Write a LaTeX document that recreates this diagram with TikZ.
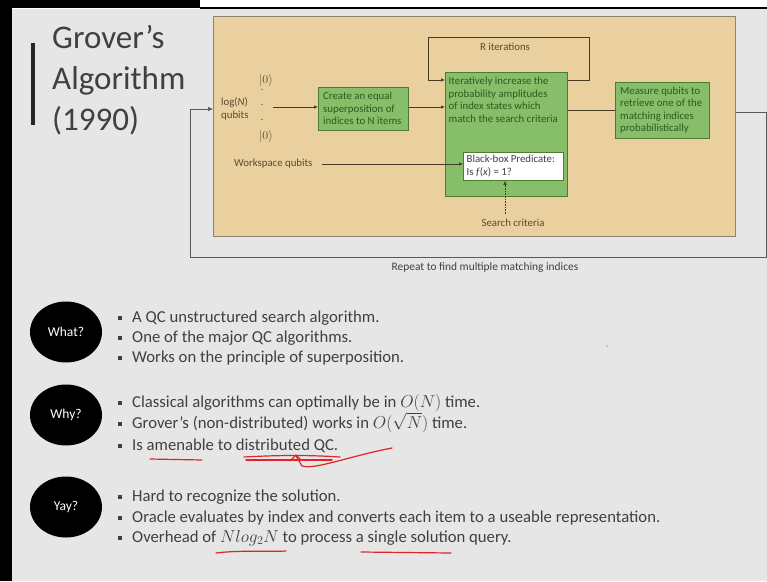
\documentclass[tikz,border=0pt]{standalone}
\usepackage{fontspec}
\setmainfont{Carlito}
\usetikzlibrary{arrows.meta,shapes.geometric,calc}
\definecolor{bgray}{HTML}{E6E6E6}
\definecolor{tan}{HTML}{E9D09E}
\definecolor{tanedge}{HTML}{8C8470}
\definecolor{gfill}{HTML}{86BE69}
\definecolor{gedge}{HTML}{4E7A34}
\definecolor{gtext}{HTML}{2E5A1E}
\definecolor{dtext}{HTML}{5A4A2E}
\definecolor{body}{HTML}{404040}
\definecolor{pen}{HTML}{E0242A}
\tikzset{
  gbox/.style={draw=gedge, fill=gfill, line width=0.8pt, inner sep=0pt},
  lbl/.style={text=dtext, font=\fontsize{10.8}{12.5}\selectfont, inner sep=0pt, align=left},
  gtxt/.style={lbl, text=gtext},
  conn/.style={draw=dtext!80!black, line width=0.6pt},
  arr/.style={conn, -{Latex[length=4pt,width=3.5pt]}},
  loopline/.style={draw=gray!70!black, line width=0.6pt},
  oval/.style={ellipse, fill=black, minimum width=72pt, minimum height=61pt, text=white, font=\fontsize{13.5}{15}\selectfont},
  item/.style={anchor=west, text=body, font=\fontsize{16.7}{19}\selectfont, inner sep=0pt, text height=11pt, text depth=3pt},
  bul/.style={fill=body, minimum size=3.2pt, inner sep=0pt},
  redpen/.style={draw=pen, line width=1.2pt, line cap=round, line join=round}
}
\begin{document}
\begin{tikzpicture}[x=1pt,y=-1pt]
\useasboundingbox (0,0) rectangle (767,581);
% frame
\fill[white] (0,0) rectangle (767,581);
\fill[bgray] (12,9) rectangle (767,581);
\fill[black] (0,0) rectangle (12,581);
\fill[black] (0,0) rectangle (200,8);
\fill[black] (200,6.5) rectangle (767,9);
% title
\node[anchor=west, text=body, font=\fontsize{33}{41}\selectfont, align=left, inner sep=0pt] (title) at (52,80) {Grover’s\\Algorithm\\(1990)};
\fill[black!85] (31,43) rectangle (35,125);
% tan panel
\node[draw=tanedge, fill=tan, line width=0.7pt, minimum width=522pt, minimum height=220pt, anchor=north west, inner sep=0pt] (panel) at (213,16) {};
% outer repeat loop
\coordinate (rc1) at (766,112);
\coordinate (rc2) at (766,257);
\coordinate (rc3) at (190,257);
\coordinate (rc4) at (190,109);
\draw[loopline] (panel.east |- rc1) -- (rc1) -- (rc2) -- (rc3) -- (rc4);
\draw[loopline, -{Latex[length=5pt,width=4.5pt]}] (rc4) -- (rc4 -| panel.west);
\node[text=body, font=\fontsize{11.4}{13}\selectfont, inner sep=0pt] (repeat) at (485,268) {Repeat to find multiple matching indices};
% inputs
\node[lbl, font=\fontsize{12}{13}\selectfont] (ket1) at (266,80) {\(|0\rangle\)};
\node[lbl, font=\fontsize{12}{13}\selectfont] (ket2) at (266,136) {\(|0\rangle\)};
\node[lbl] (d1) at (262,90) {.};
\node[lbl] (d2) at (262,105) {.};
\node[lbl] (d3) at (262,120) {.};
\node[lbl, anchor=west] (logn) at (221,109) {log(\textit{N})\\qubits};
\node[lbl, anchor=west] (work) at (234,164) {Workspace qubits};
% boxes
\node[gbox, minimum width=90pt, minimum height=43pt, anchor=north west] (create) at (318,87) {};
\node[gtxt, anchor=west] (createtext) at (323,108.5) {Create an equal\\superposition of\\indices to N items};
\node[gbox, minimum width=122pt, minimum height=124pt, anchor=north west] (big) at (445,72) {};
\node[gtxt, anchor=north west] (bigtext) at (448.5,77) {Iteratively increase the\\probability amplitudes\\of index states which\\match the search criteria};
\node[draw=gedge, fill=white, line width=0.8pt, minimum width=100pt, minimum height=28pt, anchor=north west] (pred) at (463,152) {};
\node[lbl, text=black!75, anchor=west] (predtext) at (466.5,166) {Black-box Predicate:\\Is \textit{f}(\textit{x}) = 1?};
\node[gbox, minimum width=94pt, minimum height=56pt, anchor=north west] (measure) at (615,82) {};
\node[gtxt, anchor=west] (meastext) at (620,110) {Measure qubits to\\retrieve one of the\\matching indices\\probabilistically};
\node[lbl] (crit) at (513,223) {Search criteria};
\node[lbl] (riter) at (505,47) {R iterations};
% connectors
\coordinate (qin) at (273,107);
\draw[arr] (qin) -- (qin -| create.west);
\draw[arr] (qin -| create.east) -- (qin -| big.west);
\coordinate (wst) at (322,164);
\draw[arr] (wst) -- (wst -| pred.west);
\draw[conn] (big.east |- measure.west) -- (measure.west);
\coordinate (r1) at (589,80);
\coordinate (r2) at (589,37);
\coordinate (r3) at (428,37);
\coordinate (r4) at (428,80);
\draw[arr] (r1 -| big.east) -- (r1) -- (r2) -- (r3) -- (r4) -- (r4 -| big.west);
\coordinate (cb) at (505,214);
\draw[conn, densely dotted, -{Latex[length=4pt,width=3.5pt]}] (cb) -- (cb |- pred.south);
% ovals
\node[oval] (what) at (66,332) {What?};
\node[oval] (why) at (66,415) {Why?};
\node[oval] (yay) at (66,507) {Yay?};
% bullets
\foreach \y/\n in {318/a1,338/a2,358/a3,403/b1,424/b2,446/b3,497/c1,518/c2,538/c3}{
  \node[bul] (s\n) at (120,\y) {};
}
\node[item] (ta1) at (132,318) {A QC unstructured search algorithm.};
\node[item] (ta2) at (132,338) {One of the major QC algorithms.};
\node[item] (ta3) at (132,358) {Works on the principle of superposition.};
\node[item] (tb1) at (132,403) {Classical algorithms can optimally be in \(O(N)\) time.};
\node[item] (tb2) at (132,424) {Grover’s (non-distributed) works in \(O(\sqrt{N})\) time.};
\node[item] (tb3) at (132,446) {Is amenable to distributed QC.};
\node[item] (tc1) at (132,497) {Hard to recognize the solution.};
\node[item] (tc2) at (132,518) {Oracle evaluates by index and converts each item to a useable representation.};
\node[item] (tc3) at (132,538) {Overhead of \(Nlog_2N\) to process a single solution query.};
% red pen
\draw[redpen] (150,459) -- (202,460);
\draw[redpen] (244,457) .. controls (280,455) and (310,455) .. (340,457);
\draw[redpen] (246,460) -- (332,460);
\draw[redpen] (392,448) .. controls (350,456) and (315,470) .. (302,466) -- (296,456);
\draw[redpen] (290,461) -- (296,455) -- (301,460);
\draw[redpen] (216,553) .. controls (240,550) and (265,552) .. (286,551);
\draw[redpen] (361,552) -- (451,553);
\fill[pen!60] (607,346) circle (0.8pt);
\end{tikzpicture}
\end{document}
